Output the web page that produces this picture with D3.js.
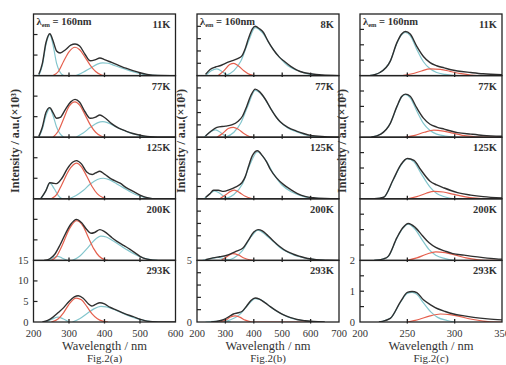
<!DOCTYPE html>
<html><head><meta charset="utf-8">
<script src="https://cdn.jsdelivr.net/npm/d3@7"></script>
<style>body{margin:0;background:#fff}svg{display:block}text{font-family:"Liberation Serif","Times New Roman",serif;fill:#333}</style>
</head><body><svg id="c" width="506" height="365"></svg>
<script>
// ---------- data ----------
const tempsA = ["11K","77K","125K","200K","293K"];
const tempsB = ["8K","77K","125K","200K","293K"];
const tempsC = ["11K","77K","125K","200K","293K"];
const xTicksA = [200,300,400,500,600];
const xTicksB = [200,300,400,500,600,700];
const xTicksC = [200,250,300,350];
const yLabelsA = [0,5,10,15];
const yLabelsB = [0,5];
const yLabelsC = [0,1,2];
const yMinorA = [5,10];
const yMinorB = [1,2,3,4];
const yMinorC = [0.5,1,1.5];

// column (a): total, red component, cyan components
const aBlack = [
 [[215,0.3],[225,3],[235,8],[246,10.2],[255,8.5],[265,6],[275,5.5],[290,6.3],[305,7.4],[317,7.7],[330,7.2],[345,5.2],[360,3.6],[375,3.9],[387,4.3],[400,3.9],[420,3.2],[440,2.5],[460,1.8],[480,1.2],[500,0.7],[520,0.3],[550,0.05],[600,0]],
 [[215,0.2],[225,2.5],[235,6],[246,7.2],[255,6],[265,4.6],[275,4.8],[290,6.8],[305,8.6],[317,9.2],[330,8.5],[345,6.2],[360,4.6],[375,4.9],[387,5.4],[400,4.8],[420,3.3],[440,2.2],[460,1.5],[480,0.9],[500,0.5],[520,0.2],[550,0],[600,0]],
 [[220,0],[235,2],[246,3.9],[255,3.8],[265,3.7],[280,5],[295,7.3],[310,8.9],[321,9.3],[335,8.5],[350,6.5],[365,5.9],[375,6.3],[387,6.7],[400,6.0],[420,4.8],[444,3.8],[460,2.8],[481,1.8],[500,0.9],[520,0.3],[550,0],[600,0]],
 [[230,0],[246,0.4],[260,1.5],[275,3.8],[290,6.5],[305,8.8],[321,10],[335,9.2],[350,7.5],[362,6.6],[372,6.8],[387,7.5],[400,7.0],[420,5.6],[434,4.7],[455,3.6],[472,2.7],[490,1.6],[500,1.0],[520,0.3],[550,0],[600,0]],
 [[225,0],[240,0.4],[255,1.2],[270,2.3],[285,3.5],[300,5],[315,6.1],[326,6.4],[340,5.8],[355,4.4],[364,3.9],[375,4.3],[387,4.7],[400,4.4],[415,3.6],[434,2.9],[455,2.1],[481,1.3],[500,0.7],[520,0.2],[550,0],[600,0]]
];
const aRed = [
 [[255,0],[270,1],[285,3.5],[300,5.8],[317,6.9],[330,6.3],[345,4.5],[360,2.5],[375,1],[390,0.2],[400,0]],
 [[255,0],[270,1.5],[285,4.5],[300,7.5],[317,8.6],[330,7.8],[345,5.5],[360,3],[375,1.2],[390,0.3],[400,0]],
 [[250,0],[265,1],[280,3.5],[300,7],[321,8.7],[335,7.8],[350,5.5],[365,3],[380,1.2],[395,0.3],[410,0]],
 [[250,0],[265,1],[280,3.5],[300,7.5],[321,9.7],[340,8.3],[355,5.5],[370,2.8],[385,1],[400,0.2],[410,0]],
 [[250,0],[270,0.8],[285,2.3],[300,4.3],[320,5.8],[335,5.4],[350,3.8],[365,2],[380,0.8],[395,0.2],[410,0]]
];
const aCyan1 = [
 [[215,0],[225,2.5],[235,7.5],[246,10],[255,7.5],[265,3],[275,0.8],[285,0]],
 [[215,0],[225,2],[235,5.2],[246,7.0],[255,5.3],[265,2.5],[275,0.8],[285,0]],
 [[220,0],[232,1.5],[246,3.8],[258,2.5],[270,0.8],[280,0]],
 [[240,0],[255,0.6],[268,1.0],[280,0.6],[295,0]],
 [[235,0],[250,0.6],[268,1.2],[283,0.8],[300,0]]
];
const aCyan2 = [
 [[320,0],[340,0.8],[360,1.8],[380,2.8],[395,3.1],[410,3.0],[430,2.4],[450,1.8],[470,1.2],[490,0.7],[510,0.3],[540,0.05],[560,0]],
 [[320,0],[340,1],[360,2.4],[380,3.5],[395,3.8],[410,3.5],[430,2.6],[450,1.8],[470,1.1],[490,0.6],[510,0.2],[540,0]],
 [[300,0],[320,0.8],[340,2],[360,3.6],[380,4.7],[397,5.0],[415,4.6],[435,3.6],[455,2.6],[475,1.6],[495,0.8],[515,0.3],[540,0]],
 [[310,0],[330,1],[350,2.8],[370,4.8],[390,5.9],[405,5.7],[425,4.7],[445,3.6],[465,2.5],[485,1.5],[505,0.7],[530,0.2],[550,0]],
 [[310,0],[330,0.8],[350,2],[370,3.2],[390,3.8],[405,3.7],[425,3.1],[445,2.4],[465,1.6],[485,1.0],[505,0.5],[530,0.1],[550,0]]
];

// column (b)
const bBlack = [
 [[230,0.1],[246,0.5],[265,0.7],[281,0.8],[300,1.0],[322,1.2],[345,1.4],[358,1.6],[370,2.2],[381,3.0],[395,3.8],[405,4.0],[420,3.8],[434,3.5],[450,2.8],[469,2.1],[490,1.5],[505,1.2],[530,0.75],[552,0.45],[575,0.25],[600,0.15],[640,0.05],[700,0]],
 [[230,0.1],[250,0.5],[270,0.8],[300,0.9],[322,1.0],[345,1.3],[360,1.7],[375,2.5],[390,3.4],[405,3.9],[420,3.7],[440,3.1],[460,2.3],[480,1.6],[493,1.25],[520,0.8],[550,0.5],[575,0.3],[600,0.15],[650,0.05],[700,0]],
 [[230,0.1],[245,0.4],[258,0.7],[275,0.7],[293,0.6],[315,0.75],[335,0.95],[358,1.3],[370,1.8],[381,2.6],[395,3.5],[413,3.9],[430,3.5],[445,3.0],[458,2.4],[480,1.7],[505,1.15],[530,0.75],[552,0.45],[580,0.2],[610,0.08],[650,0.02],[700,0]],
 [[230,0.05],[256,0.2],[280,0.3],[303,0.4],[320,0.55],[339,0.75],[362,1.0],[380,1.6],[400,2.3],[415,2.5],[430,2.4],[450,2.0],[468,1.6],[490,1.15],[515,0.75],[540,0.5],[562,0.33],[590,0.15],[620,0.06],[660,0.02],[700,0]],
 [[250,0],[280,0.1],[293,0.2],[310,0.4],[328,0.65],[345,0.75],[358,0.85],[375,1.3],[390,1.75],[405,1.95],[420,1.85],[440,1.55],[458,1.25],[480,0.9],[505,0.57],[530,0.35],[552,0.2],[580,0.1],[610,0.04],[650,0]]
];
const bRed = [
 [[275,0],[295,0.4],[315,0.9],[330,1.0],[345,0.8],[365,0.4],[385,0.1],[400,0]],
 [[270,0],[290,0.3],[310,0.7],[328,0.8],[345,0.65],[365,0.3],[385,0.05],[395,0]],
 [[280,0],[300,0.3],[318,0.6],[332,0.7],[350,0.5],[370,0.2],[390,0.03],[400,0]],
 [[285,0],[305,0.3],[325,0.55],[345,0.45],[365,0.2],[385,0.05],[398,0]],
 [[280,0],[300,0.15],[318,0.4],[334,0.5],[350,0.4],[370,0.15],[390,0.02],[400,0],[600,0]]
];
const bCyan1 = [
 [[230,0],[250,0.4],[270,0.55],[290,0.3],[310,0]],
 [[225,0],[245,0.4],[265,0.6],[285,0.35],[305,0]],
 [[225,0],[245,0.4],[262,0.65],[280,0.45],[300,0.1],[315,0]],
 [[220,0],[250,0.15],[275,0.25],[300,0.1],[320,0]],
 [[230,0],[260,0.05],[290,0.08],[320,0]]
];
const bCyan2 = [
 [[300,0],[330,0.4],[355,1.2],[380,2.7],[405,3.9],[430,3.5],[460,2.4],[490,1.5],[520,0.8],[550,0.45],[580,0.2],[620,0.05],[650,0]],
 [[300,0],[330,0.4],[355,1.2],[380,2.6],[405,3.8],[430,3.4],[460,2.3],[490,1.3],[520,0.75],[550,0.45],[580,0.2],[620,0.05],[650,0]],
 [[300,0],[330,0.35],[360,1.2],[385,2.7],[413,3.8],[440,3.2],[470,2.0],[500,1.1],[530,0.6],[560,0.3],[600,0.08],[650,0]],
 [[300,0],[330,0.2],[360,0.8],[390,1.9],[415,2.45],[440,2.1],[470,1.5],[500,0.9],[530,0.55],[560,0.3],[600,0.1],[650,0]],
 [[290,0],[320,0.2],[350,0.6],[380,1.4],[405,1.9],[430,1.75],[460,1.2],[490,0.75],[520,0.42],[550,0.2],[590,0.06],[630,0]]
];

// column (c)
const cBlack = [
 [[210,0],[221,0.1],[232,0.47],[239,1.07],[244,1.35],[248,1.43],[253,1.35],[260,0.95],[267,0.62],[274,0.42],[281,0.32],[289,0.25],[296,0.19],[303,0.15],[317,0.1],[330,0.06],[350,0.03]],
 [[212,0],[222,0.1],[232,0.45],[239,1.0],[244,1.32],[248,1.4],[253,1.33],[260,0.95],[267,0.62],[274,0.42],[281,0.33],[289,0.26],[296,0.2],[303,0.15],[317,0.1],[330,0.06],[350,0.03]],
 [[215,0],[225,0.05],[235,0.62],[243,1.1],[250,1.31],[257,1.25],[264,0.95],[274,0.57],[281,0.45],[289,0.35],[296,0.27],[303,0.2],[317,0.12],[330,0.07],[350,0.03]],
 [[215,0],[225,0.05],[230,0.14],[239,0.74],[245,1.05],[251,1.2],[258,1.08],[266,0.8],[273,0.57],[280,0.42],[290,0.3],[298,0.22],[310,0.17],[319,0.13],[330,0.09],[344,0.05],[350,0.04]],
 [[220,0],[232,0.12],[243,0.67],[250,0.96],[255,0.99],[260,0.95],[267,0.72],[275,0.55],[282,0.43],[290,0.34],[299,0.26],[310,0.2],[320,0.15],[335,0.1],[350,0.07]]
];
const cRed = [
 [[245,0],[255,0.06],[265,0.15],[274,0.22],[285,0.2],[295,0.14],[305,0.07],[317,0.02],[330,0],[350,0]],
 [[248,0],[258,0.06],[268,0.16],[278,0.23],[288,0.2],[298,0.13],[308,0.06],[320,0.02],[330,0],[350,0]],
 [[250,0],[260,0.07],[270,0.18],[278,0.24],[288,0.22],[298,0.15],[310,0.07],[322,0.02],[335,0],[350,0]],
 [[250,0],[260,0.08],[270,0.2],[280,0.28],[290,0.25],[300,0.18],[312,0.08],[325,0.02],[335,0],[350,0]],
 [[250,0],[262,0.08],[274,0.2],[285,0.26],[295,0.24],[305,0.18],[318,0.09],[330,0.03],[345,0],[350,0]]
];
const cCyan = [
 [[210,0],[221,0.1],[232,0.47],[239,1.05],[244,1.32],[248,1.4],[253,1.3],[260,0.85],[267,0.45],[274,0.22],[281,0.1],[290,0.04],[300,0]],
 [[212,0],[222,0.1],[232,0.45],[239,0.98],[244,1.3],[248,1.38],[253,1.28],[260,0.85],[267,0.45],[274,0.22],[281,0.1],[290,0.04],[300,0]],
 [[215,0],[225,0.05],[235,0.6],[243,1.08],[250,1.3],[257,1.2],[264,0.85],[274,0.38],[281,0.17],[290,0.06],[300,0]],
 [[215,0],[225,0.05],[230,0.13],[239,0.72],[245,1.03],[251,1.18],[258,1.02],[266,0.65],[273,0.35],[280,0.17],[290,0.06],[300,0]],
 [[220,0],[232,0.12],[243,0.65],[250,0.93],[255,0.96],[260,0.9],[267,0.62],[275,0.32],[282,0.15],[292,0.05],[300,0]]
];

// ---------- layout ----------
const svg = d3.select("#c");
const FONT = "Liberation Serif";
const TOP = 14, PH = 61.6, NP = 5;
const COLORS = {black:"#2f2f2f", red:"#e5604e", cyan:"#84c6cd"};

const columns = [
 {x0:33.5, x1:175.5, xd:[200,600], yd:[0,15], temps:tempsA, xt:xTicksA, yl:yLabelsA, ym:yMinorA,
  curves:[[aCyan1,"cyan"],[aCyan2,"cyan"],[aRed,"red"],[aBlack,"black"]], fig:"Fig.2(a)", ylabX:19},
 {x0:197, x1:339, xd:[200,700], yd:[0,5], temps:tempsB, xt:xTicksB, yl:yLabelsB, ym:yMinorB,
  curves:[[bCyan1,"cyan"],[bCyan2,"cyan"],[bRed,"red"],[bBlack,"black"]], fig:"Fig.2(b)", ylabX:185},
 {x0:360, x1:502, xd:[200,350], yd:[0,2], temps:tempsC, xt:xTicksC, yl:yLabelsC, ym:yMinorC,
  curves:[[cCyan,"cyan"],[cRed,"red"],[cBlack,"black"]], fig:"Fig.2(c)", ylabX:346}
];

const txt = (sel) => sel.append("text").attr("font-family", FONT);

const defs = svg.append("defs");
columns.forEach((col, ci) => {
  const x = d3.scaleLinear().domain(col.xd).range([col.x0, col.x1]);
  for (let p = 0; p < NP; p++) {
    const top = TOP + p*PH, bot = top + PH;
    const y = d3.scaleLinear().domain(col.yd).range([bot, top]);
    const cid = `clip${ci}_${p}`;
    defs.append("clipPath").attr("id", cid).append("rect")
      .attr("x", col.x0).attr("y", top).attr("width", col.x1-col.x0).attr("height", PH);
    const g = svg.append("g").attr("clip-path", `url(#${cid})`);
    const line = d3.line().x(d => x(d[0])).y(d => y(d[1])).curve(d3.curveMonotoneX);
    col.curves.forEach(([arr, c]) => {
      g.append("path").attr("d", line(arr[p])).attr("fill","none")
        .attr("stroke", COLORS[c]).attr("stroke-width", c==="black"?1.4:1.2);
    });
    const ax = svg.append("g");
    col.xt.slice(1, -1).forEach(t => {
      ax.append("line").attr("x1", x(t)).attr("x2", x(t)).attr("y1", bot-3).attr("y2", bot+1.5)
        .attr("stroke","#222").attr("stroke-width",1.3);
    });
    col.ym.forEach(t => {
      ax.append("line").attr("x1", col.x0).attr("x2", col.x0+4).attr("y1", y(t)).attr("y2", y(t))
        .attr("stroke","#222").attr("stroke-width",1.2);
    });
    svg.append("rect").attr("x", col.x0).attr("y", top).attr("width", col.x1-col.x0).attr("height", PH)
      .attr("fill","none").attr("stroke","#222").attr("stroke-width",1.3);
    txt(svg).attr("x", col.x1-5).attr("y", top+14).attr("text-anchor","end")
      .attr("font-size", 10.5).attr("font-weight","bold").attr("fill","#444").text(col.temps[p]);
    if (p === 0) {
      const t = txt(svg).attr("x", col.x0+3).attr("y", top+11).attr("font-size", 10.5).attr("font-weight","bold").attr("fill","#444");
      t.append("tspan").text("λ");
      t.append("tspan").attr("font-size", 6.5).attr("dy", 2).text("em");
      t.append("tspan").attr("dy", -2).text(" = 160nm");
    }
    if (p === NP-1) {
      col.yl.forEach(v => {
        txt(svg).attr("x", col.x0-5).attr("y", y(v)+3.5).attr("text-anchor","end")
          .attr("font-size", 10.5).attr("fill","#444").text(v);
      });
    }
  }
  col.xt.forEach(t => {
    txt(svg).attr("x", x(t)).attr("y", 337).attr("text-anchor","middle")
      .attr("font-size", 10.5).attr("fill","#444").text(t);
  });
  const cx = (col.x0+col.x1)/2;
  txt(svg).attr("x", cx).attr("y", 349.5).attr("text-anchor","middle")
    .attr("font-size", 12.5).attr("fill","#444").text("Wavelength / nm");
  txt(svg).attr("x", cx).attr("y", 361.5).attr("text-anchor","middle")
    .attr("font-size", 11).attr("fill","#444").text(col.fig);
  txt(svg).attr("transform", `translate(${col.ylabX},141) rotate(-90)`)
    .attr("text-anchor","middle").attr("font-size", 12).attr("font-weight","bold").attr("fill","#333")
    .text("Intensity / a.u.(×10³)");
});
</script></body></html>
